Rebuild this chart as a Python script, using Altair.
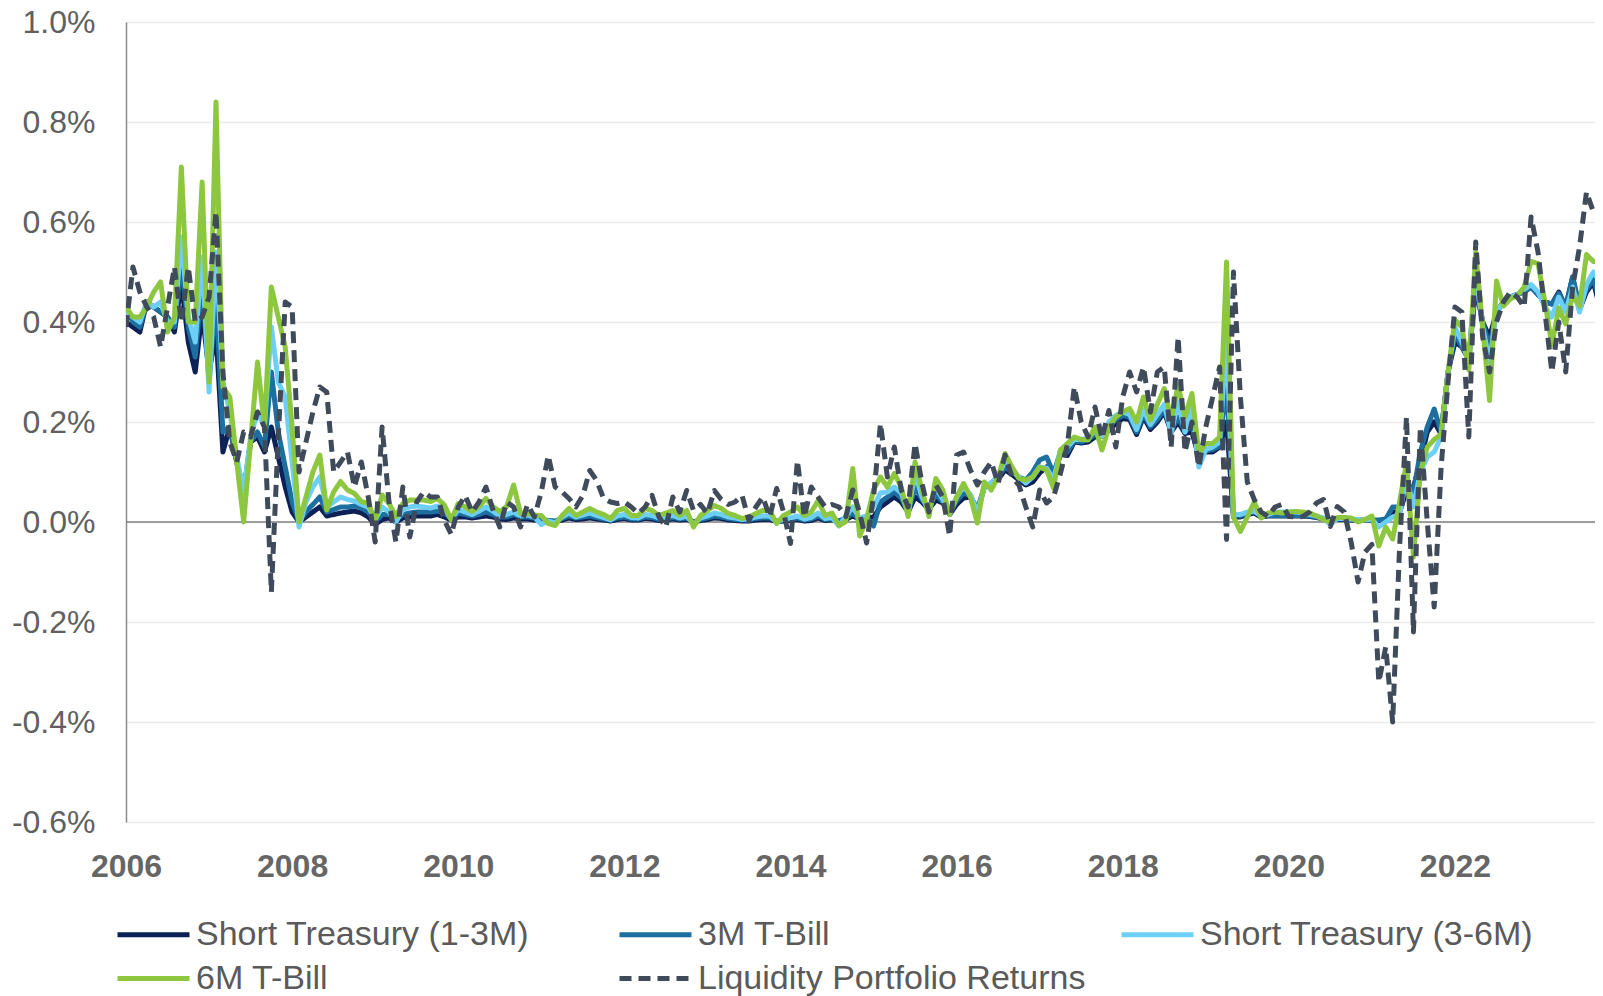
import altair as alt
import pandas as pd

series_names = ["Short Treasury (1-3M)", "3M T-Bill", "Short Treasury (3-6M)", "6M T-Bill",
                "Liquidity Portfolio Returns"]
series_colors = ["#0d2157", "#1c6f9f", "#6dcff6", "#8dc63f", "#3f4b5a"]
start_year = 2006  # monthly data from Jan 2006 to Oct 2023

short_treasury_1_3m = [
    0.40, 0.39, 0.38, 0.44, 0.43, 0.42, 0.41, 0.38, 0.48, 0.36, 0.30, 0.42,
    0.30, 0.38, 0.14, 0.19, 0.12, 0.06, 0.16, 0.17, 0.14, 0.19, 0.13, 0.07,
    0.02, 0.00, 0.01, 0.02, 0.03, 0.012, 0.015, 0.018, 0.02, 0.022, 0.018, 0.01,
    -0.005, 0.005, 0.008, 0.0, 0.008, 0.01, 0.012, 0.012, 0.012, 0.015, 0.01, 0.004,
    0.01, 0.01, 0.008, 0.01, 0.012, 0.01, 0.006, 0.005, 0.008, 0.006, 0.006, 0.004,
    0.003, 0.002, 0.001, 0.004, 0.008, 0.005, 0.006, 0.008, 0.006, 0.004, 0.002, 0.005,
    0.007, 0.004, 0.004, 0.007, 0.006, 0.003, 0.004, 0.006, 0.004, 0.005, 0.0, 0.003,
    0.005, 0.008, 0.007, 0.004, 0.003, 0.002, 0.002, 0.004, 0.005, 0.005, 0.001, 0.002,
    0.003, 0.005, 0.002, 0.003, 0.008, 0.003, 0.004, 0.001, 0.005, 0.012, 0.005, 0.008,
    0.01, 0.03, 0.04, 0.05, 0.04, 0.02, 0.05, 0.04, 0.025, 0.044, 0.038, 0.015,
    0.035, 0.048, 0.05, 0.018, 0.07, 0.075, 0.085, 0.104, 0.095, 0.084, 0.074, 0.08,
    0.098, 0.11, 0.09, 0.135, 0.133, 0.16, 0.158, 0.16, 0.17, 0.172, 0.183, 0.197,
    0.207, 0.205, 0.175, 0.21, 0.185, 0.2, 0.22, 0.18, 0.2, 0.177, 0.18, 0.13,
    0.14, 0.14, 0.15, 0.20, 0.01, 0.01, 0.015, 0.018, 0.01, 0.012, 0.012, 0.012,
    0.012, 0.012, 0.012, 0.011, 0.009, 0.006, 0.004, 0.005, 0.005, 0.004, 0.003, 0.003,
    0.003, 0.003, 0.005, 0.02, 0.02, 0.062, 0.07, 0.12, 0.18, 0.20, 0.176, 0.30,
    0.36, 0.35, 0.325, 0.47, 0.40, 0.37, 0.42, 0.44, 0.45, 0.455, 0.46, 0.47,
    0.455, 0.44, 0.436, 0.46, 0.43, 0.49, 0.425, 0.46, 0.48, 0.425,
]

tbill_3m = [
    0.43, 0.40, 0.39, 0.44, 0.43, 0.42, 0.41, 0.39, 0.52, 0.39, 0.33, 0.48,
    0.28, 0.45, 0.18, 0.19, 0.12, 0.06, 0.16, 0.18, 0.15, 0.30, 0.18, 0.11,
    0.04, 0.00, 0.02, 0.035, 0.05, 0.02, 0.025, 0.03, 0.03, 0.032, 0.028, 0.02,
    0.0, 0.015, 0.015, 0.005, 0.015, 0.018, 0.02, 0.02, 0.02, 0.022, 0.018, 0.006,
    0.018, 0.015, 0.012, 0.015, 0.02, 0.015, 0.01, 0.01, 0.015, 0.01, 0.01, 0.008,
    0.005, 0.003, 0.002, 0.007, 0.012, 0.008, 0.01, 0.012, 0.009, 0.006, 0.004, 0.008,
    0.01, 0.006, 0.006, 0.01, 0.009, 0.005, 0.006, 0.009, 0.006, 0.008, 0.0, 0.005,
    0.008, 0.012, 0.01, 0.007, 0.005, 0.004, 0.004, 0.007, 0.008, 0.008, 0.002, 0.004,
    0.005, 0.008, 0.004, 0.006, 0.012, 0.005, 0.006, 0.002, 0.008, 0.018, 0.005, 0.01,
    -0.008, 0.04, 0.05, 0.06, 0.048, 0.02, 0.07, 0.045, 0.028, 0.055, 0.04, 0.018,
    0.042, 0.058, 0.052, 0.025, 0.07, 0.078, 0.09, 0.11, 0.1, 0.09, 0.084, 0.10,
    0.124, 0.13, 0.097, 0.14, 0.14, 0.162, 0.16, 0.165, 0.175, 0.172, 0.19, 0.205,
    0.213, 0.21, 0.18, 0.215, 0.19, 0.205, 0.225, 0.183, 0.21, 0.18, 0.195, 0.125,
    0.142, 0.145, 0.152, 0.28, 0.013, 0.012, 0.018, 0.02, 0.012, 0.013, 0.013, 0.013,
    0.013, 0.013, 0.013, 0.012, 0.01, 0.007, 0.005, 0.006, 0.006, 0.005, 0.004, 0.004,
    0.004, 0.004, 0.006, 0.03, 0.03, 0.076, 0.06, 0.14, 0.19, 0.226, 0.18, 0.30,
    0.375, 0.35, 0.33, 0.48, 0.40, 0.35, 0.42, 0.44, 0.45, 0.455, 0.46, 0.47,
    0.455, 0.44, 0.436, 0.457, 0.43, 0.49, 0.43, 0.465, 0.485, 0.44,
]

short_treasury_3_6m = [
    0.42, 0.41, 0.40, 0.44, 0.43, 0.44, 0.40, 0.40, 0.57, 0.41, 0.36, 0.53,
    0.26, 0.54, 0.28, 0.22, 0.13, 0.06, 0.17, 0.22, 0.19, 0.39, 0.28, 0.25,
    0.12, -0.01, 0.04, 0.07, 0.09, 0.03, 0.04, 0.05, 0.045, 0.042, 0.035, 0.03,
    0.005, 0.03, 0.02, 0.0, 0.025, 0.03, 0.032, 0.03, 0.028, 0.032, 0.025, 0.006,
    0.025, 0.02, 0.015, 0.022, 0.03, 0.022, 0.012, 0.015, 0.02, 0.012, 0.014, 0.01,
    -0.005, 0.002, -0.002, 0.01, 0.018, 0.01, 0.014, 0.018, 0.013, 0.009, 0.004, 0.012,
    0.015, 0.009, 0.008, 0.015, 0.013, 0.008, 0.01, 0.013, 0.008, 0.012, -0.005, 0.008,
    0.012, 0.018, 0.015, 0.01, 0.008, 0.005, 0.006, 0.01, 0.012, 0.012, 0.0, 0.006,
    0.008, 0.012, 0.006, 0.009, 0.018, 0.007, 0.009, -0.008, 0.012, 0.03, 0.008, 0.012,
    0.03, 0.058, 0.06, 0.07, 0.058, 0.02, 0.097, 0.05, 0.022, 0.07, 0.045, 0.02,
    0.05, 0.07, 0.055, 0.018, 0.07, 0.078, 0.09, 0.124, 0.105, 0.09, 0.078, 0.09,
    0.11, 0.108, 0.084, 0.144, 0.15, 0.165, 0.165, 0.168, 0.183, 0.172, 0.2, 0.213,
    0.22, 0.215, 0.185, 0.225, 0.195, 0.215, 0.235, 0.178, 0.24, 0.18, 0.23, 0.11,
    0.145, 0.15, 0.16, 0.37, 0.015, 0.015, 0.02, 0.022, 0.012, 0.015, 0.02, 0.02,
    0.02, 0.02, 0.018, 0.015, 0.012, 0.008, -0.005, 0.007, 0.007, 0.006, 0.005, 0.004,
    0.005, -0.01, 0.0, 0.01, 0.015, 0.09, 0.03, 0.10, 0.13, 0.14, 0.17, 0.30,
    0.39, 0.36, 0.32, 0.50, 0.39, 0.32, 0.42, 0.44, 0.45, 0.455, 0.465, 0.475,
    0.46, 0.43, 0.41, 0.45, 0.42, 0.47, 0.42, 0.475, 0.50, 0.48,
]

tbill_6m = [
    0.43, 0.41, 0.41, 0.43, 0.46, 0.48, 0.38, 0.41, 0.71, 0.40, 0.40, 0.68,
    0.28, 0.84, 0.27, 0.25, 0.12, 0.00, 0.16, 0.32, 0.19, 0.47, 0.41, 0.35,
    0.19, 0.00, 0.05, 0.10, 0.134, 0.024, 0.06, 0.081, 0.064, 0.057, 0.041, 0.037,
    0.003, 0.054, 0.037, 0.011, 0.037, 0.044, 0.044, 0.044, 0.041, 0.047, 0.034, 0.004,
    0.037, 0.03, 0.021, 0.031, 0.047, 0.031, 0.021, 0.031, 0.074, 0.017, 0.017, 0.014,
    0.013, -0.003, -0.007, 0.013, 0.027, 0.013, 0.02, 0.027, 0.02, 0.015, 0.007, 0.023,
    0.027, 0.013, 0.013, 0.027, 0.023, 0.013, 0.018, 0.023, 0.013, 0.023, -0.01, 0.013,
    0.023, 0.033, 0.027, 0.017, 0.013, 0.007, 0.01, 0.017, 0.023, 0.023, -0.003, 0.013,
    0.02, 0.03, 0.013, 0.02, 0.043, 0.013, 0.018, -0.007, 0.001, 0.107, -0.028, 0.005,
    0.064, 0.09, 0.07, 0.097, 0.07, 0.011, 0.12, 0.064, 0.011, 0.087, 0.064, 0.015,
    0.05, 0.077, 0.05, -0.002, 0.08, 0.064, 0.09, 0.137, 0.11, 0.087, 0.084, 0.09,
    0.11, 0.104, 0.068, 0.144, 0.157, 0.17, 0.165, 0.164, 0.19, 0.144, 0.19, 0.21,
    0.22, 0.227, 0.20, 0.25, 0.204, 0.235, 0.267, 0.204, 0.274, 0.21, 0.257, 0.137,
    0.157, 0.157, 0.17, 0.52, 0.01, -0.019, 0.01, 0.04, 0.008, 0.018, 0.02, 0.018,
    0.02, 0.021, 0.02, 0.018, 0.012, 0.005, 0.0, 0.009, 0.009, 0.008, 0.0, 0.005,
    0.012, -0.048, -0.01, -0.034, 0.04, 0.119, -0.07, 0.10, 0.15, 0.165, 0.176, 0.30,
    0.404, 0.39, 0.304, 0.539, 0.39, 0.243, 0.482, 0.432, 0.446, 0.453, 0.47, 0.521,
    0.517, 0.44, 0.354, 0.428, 0.396, 0.453, 0.432, 0.535, 0.521, 0.521,
]

liquidity_portfolio = [
    0.39, 0.51, 0.46, 0.43, 0.41, 0.35, 0.43, 0.51, 0.40, 0.51, 0.40, 0.41,
    0.45, 0.62, 0.30, 0.16, 0.12, 0.18, 0.17, 0.22, 0.19, -0.14, 0.17, 0.44,
    0.43, 0.10, 0.16, 0.22, 0.27, 0.26, 0.10, 0.12, 0.14, 0.07, 0.12, 0.05,
    -0.04, 0.19, 0.04, -0.04, 0.07, -0.03, 0.04, 0.06, 0.05, 0.05, 0.003, -0.025,
    0.03, 0.053, 0.02, 0.04, 0.07, 0.025, -0.01, 0.04, 0.03, -0.01, 0.035, 0.01,
    0.06, 0.133, 0.07, 0.06, 0.047, 0.03, 0.053, 0.103, 0.083, 0.047, 0.04, 0.037,
    0.04, 0.03, 0.017, 0.03, 0.053, 0.01, -0.01, 0.05, 0.02, 0.063, 0.023, 0.035,
    0.017, 0.063, 0.045, 0.035, 0.04, 0.053, 0.003, 0.03, 0.05, 0.01, 0.067, 0.02,
    -0.043, 0.123, 0.01, 0.07, 0.05, 0.03, 0.035, 0.03, 0.011, 0.064, 0.018, -0.042,
    0.05, 0.197, 0.09, 0.15, 0.064, 0.03, 0.157, 0.077, 0.02, 0.074, 0.05, -0.028,
    0.134, 0.14, 0.104, 0.074, 0.10, 0.12, 0.077, 0.134, 0.09, 0.074, 0.03, -0.01,
    0.064, 0.038, 0.05, 0.097, 0.154, 0.27, 0.20, 0.17, 0.23, 0.167, 0.223, 0.15,
    0.25, 0.30, 0.26, 0.31, 0.22, 0.30, 0.31, 0.15, 0.37, 0.14, 0.20, 0.11,
    0.19, 0.25, 0.31, -0.035, 0.50, 0.25, 0.08, 0.045, 0.02, 0.011, 0.03, 0.035,
    0.011, 0.01, 0.011, 0.02, 0.038, 0.045, -0.009, 0.031, 0.02, -0.04, -0.12, -0.06,
    -0.045, -0.32, -0.25, -0.40, -0.05, 0.21, -0.22, 0.19, 0.0, -0.17, 0.11, 0.28,
    0.43, 0.42, 0.17, 0.56, 0.37, 0.30, 0.40, 0.44, 0.46, 0.45, 0.43, 0.61,
    0.54, 0.42, 0.30, 0.40, 0.30, 0.47, 0.55, 0.66, 0.62, 0.61,
]

y_ticks = [-0.6, -0.4, -0.2, 0.0, 0.2, 0.4, 0.6, 0.8, 1.0]
x_ticks = [2006, 2008, 2010, 2012, 2014, 2016, 2018, 2020, 2022]

all_series = [short_treasury_1_3m, tbill_3m, short_treasury_3_6m, tbill_6m, liquidity_portfolio]
rows = []
for name, vals in zip(series_names, all_series):
    for i, v in enumerate(vals):
        rows.append({"t": start_year + i / 12.0, "v": v, "series": name})
df = pd.DataFrame(rows)

FONT = "Liberation Sans"
PLOT_W = 1469          # 118 + 1469 = 1587 = page width without margins (no shrinking)
PLOT_H = 800
PX_PER_YEAR = 83.06

# Legend symbol: a horizontal stroke twice as long as the (small) symbol box,
# so legend rows can stay close together.
legend = alt.Legend(
    title=None, orient="none", legendX=-11, legendY=892, direction="horizontal",
    columns=3, gridAlign="all", columnPadding=25, rowPadding=6,
    symbolType="M-1,0H3", symbolSize=1296, labelFontSize=34, labelFont=FONT,
    labelColor="#5a5a5a", labelOffset=40, labelLimit=700,
)

x_enc = alt.X(
    "t:Q",
    scale=alt.Scale(domain=[2006, 2006 + PLOT_W / PX_PER_YEAR], nice=False, zero=False),
    axis=alt.Axis(values=x_ticks, format="d", grid=False, domain=False, ticks=False,
                  labelPadding=29, labelFontSize=32, labelFontWeight="bold",
                  labelColor="#666666", labelFont=FONT, title=None, labelFlush=False),
)
y_enc = alt.Y(
    "v:Q",
    scale=alt.Scale(domain=[-0.6, 1.0], nice=False, zero=False),
    axis=alt.Axis(values=y_ticks,
                  labelExpr="(datum.value < -0.0001 ? '-' : '') + format(abs(datum.value), '.1f') + '%'",
                  grid=True, gridColor="#ebebeb", gridWidth=1.5, domain=True,
                  domainColor="#8a8a8a", domainWidth=1.5, ticks=False, labelPadding=31,
                  labelFontSize=32, labelColor="#606060", labelFont=FONT, title=None),
)
color_enc = alt.Color("series:N", scale=alt.Scale(domain=series_names, range=series_colors),
                      legend=legend)
dash_enc = alt.StrokeDash("series:N",
                          scale=alt.Scale(domain=series_names,
                                          range=[[1, 0], [1, 0], [1, 0], [1, 0], [12, 7]]),
                          legend=legend)
width_enc = alt.StrokeWidth("series:N",
                            scale=alt.Scale(domain=series_names, range=[5, 5, 5, 5, 3.5]),
                            legend=legend)

zero_df = pd.DataFrame({"v": [0.0]})
zero_rule = alt.Chart(zero_df).mark_rule(color="#7f7f7f", strokeWidth=1.5).encode(y=alt.Y("v:Q"))

layers = [zero_rule]
for name in series_names:
    layers.append(
        alt.Chart(df).transform_filter(alt.datum.series == name)
        .mark_line(clip=True, strokeJoin="round", strokeCap="butt")
        .encode(x=x_enc, y=y_enc, color=color_enc, strokeDash=dash_enc,
                strokeWidth=width_enc, order="t:Q")
    )

chart = (
    alt.layer(*layers)
    .properties(width=PLOT_W, height=PLOT_H,
                padding={"left": 118, "top": 14, "right": 0, "bottom": 178},
                autosize=alt.AutoSizeParams(type="none"))
    .configure_view(stroke=None)
    .configure(font=FONT)
)

chart.save("out.html", embed_options={"renderer": "svg", "actions": False})
